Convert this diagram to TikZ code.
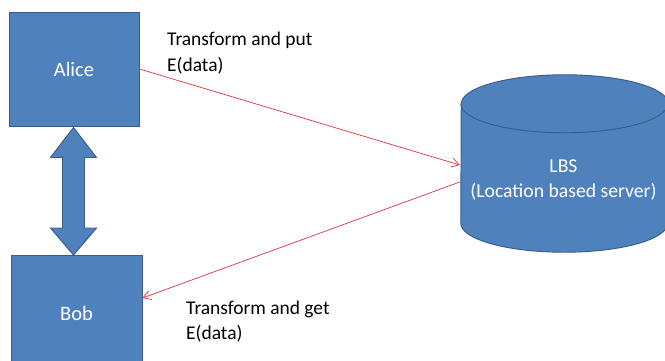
\documentclass[tikz,border=0pt]{standalone}
\usepackage{fontspec}
\setmainfont{Carlito}
\usetikzlibrary{arrows.meta,calc}
\definecolor{boxblue}{RGB}{79,129,189}
\definecolor{boxedge}{RGB}{56,93,138}
\definecolor{linered}{RGB}{222,52,62}

\begin{document}
\begin{tikzpicture}[x=0.03cm,y=0.03cm,
  party/.style={draw=boxedge,line width=0.8pt,fill=boxblue,text=white,minimum width=3.9cm,minimum height=3.42cm,font=\fontsize{17.5}{21}\selectfont},
  shade/.style={draw=boxedge,line width=0.8pt,fill=boxblue},
  flow/.style={draw=linered,line width=0.6pt,-{Straight Barb[length=2.3mm,width=2.8mm]}},
  note/.style={anchor=west,align=left,inner sep=0pt,font=\fontsize{16.6}{22}\selectfont}]
\useasboundingbox (0,0) rectangle (665,360);
\node[party] (alice) at (74,291) {Alice};
\node[party,minimum width=3.93cm,minimum height=3.48cm] (bob) at (76.5,47) {Bob};
% two-headed link between the users
\coordinate (ta) at ($(alice.south)+(-0.5,-1)$);
\coordinate (tb) at ($(bob.north)+(-3,-0.5)$);
\draw[shade] (ta) -- ++(23,-30) -- ++(-12,0) -- ($(tb)+(11,27)$) -- ++(12,0) -- (tb)
  -- ++(-23,27) -- ++(12,0) -- ($(ta)+(-11,-30)$) -- ++(-12,0) -- cycle;
% server drum
\node[minimum width=6.21cm,minimum height=3.57cm,inner sep=0pt] (lbs) at (564.5,196.5) {};
\filldraw[shade] (lbs.south west) arc[start angle=180,end angle=360,x radius=103.5,y radius=29]
  -- (lbs.north east) arc[start angle=0,end angle=180,x radius=103.5,y radius=29] -- cycle;
\draw[shade,fill=none] (lbs.north west) arc[start angle=180,end angle=360,x radius=103.5,y radius=29];
\node[align=center,text=white,font=\fontsize{16.8}{22}\selectfont] (lbstext) at ($(lbs.center)+(-1,-16.5)$) {LBS\\(Location based server)};
\draw[flow] (alice.east) -- ($(lbs.west)+(-1,-1.5)$);
\draw[flow] ($(lbs.west)+(-1,-18.5)$) -- ($(bob.east)+(0,15)$);
\node[note] (putlbl) at (167,307) {Transform and put\\E(data)};
\node[note] (getlbl) at (186,38.5) {Transform and get\\E(data)};
\end{tikzpicture}
\end{document}
